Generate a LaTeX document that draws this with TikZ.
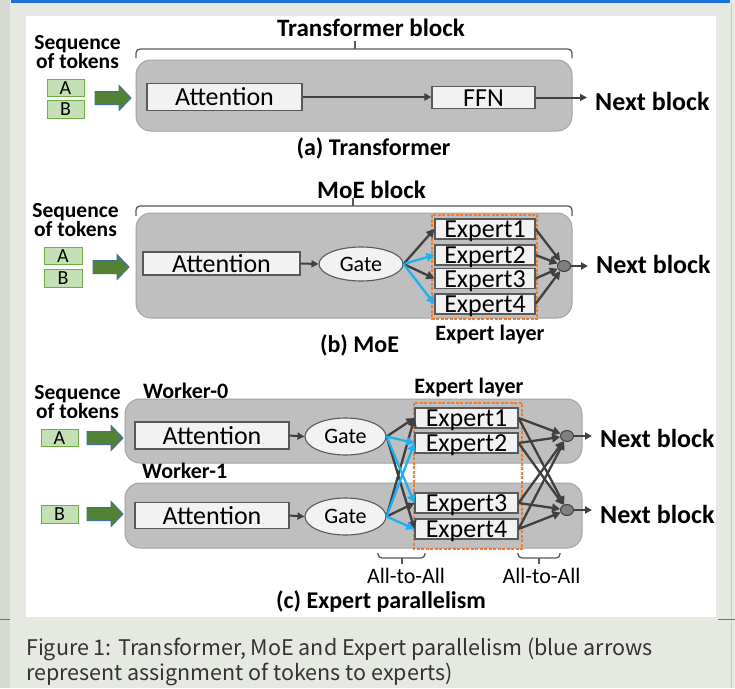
\documentclass[tikz,border=0pt]{standalone}
\usepackage{fontspec}
\setmainfont{Carlito}
\newfontfamily\capfont{Noto Sans CJK SC}
\usetikzlibrary{arrows.meta,shapes.geometric}
\definecolor{outerbg}{HTML}{E5E9E1}
\definecolor{leftstrip}{HTML}{D6DAD2}
\definecolor{topblue}{HTML}{1E6ED7}
\definecolor{boxfill}{HTML}{BFBFBF}
\definecolor{boxedge}{HTML}{A3A3A3}
\definecolor{infill}{HTML}{F2F2F2}
\definecolor{inedge}{HTML}{595959}
\definecolor{tokfill}{HTML}{C5E0B4}
\definecolor{tokedge}{HTML}{70AD47}
\definecolor{garfill}{HTML}{548235}
\definecolor{garedge}{HTML}{41719C}
\definecolor{darkarr}{HTML}{404040}
\definecolor{bluearr}{HTML}{1EB0F0}
\definecolor{orangedash}{HTML}{ED7D31}
\definecolor{circfill}{HTML}{7F7F7F}
\definecolor{captext}{HTML}{333333}
\begin{document}
\begin{tikzpicture}[x=1pt,y=-1pt,
  grayblk/.style={draw=boxedge, fill=boxfill, rounded corners=15pt, line width=1pt, inner sep=0pt},
  inbox/.style={draw=inedge, fill=infill, line width=1.1pt, inner sep=0pt,
    font=\fontsize{26}{26}\selectfont, text height=17pt, text depth=0pt},
  expbox/.style={inbox, minimum width=100pt, minimum height=20pt},
  gatebox/.style={ellipse, draw=inedge, fill=infill, line width=1.1pt, inner sep=0pt,
    font=\fontsize{22}{22}\selectfont, text height=14pt, text depth=0pt},
  tokbox/.style={draw=tokedge, fill=tokfill, line width=1pt, inner sep=0pt,
    minimum width=37pt, font=\fontsize{20}{20}\selectfont, text height=13pt, text depth=0pt},
  circ/.style={ellipse, draw=darkarr, fill=circfill, line width=1pt, inner sep=0pt,
    minimum width=13pt, minimum height=11pt},
  orng/.style={draw=orangedash, line width=1.2pt, dash pattern=on 3pt off 1.5pt},
  brc/.style={draw=inedge, line width=1.3pt, rounded corners=4pt},
  darr/.style={draw=darkarr, line width=2.3pt, -{Triangle[length=8pt,width=8.5pt]}},
  barr/.style={draw=bluearr, line width=2.3pt, -{Triangle[length=8pt,width=8.5pt]}},
  sarr/.style={draw=darkarr, line width=2pt, -{Triangle[length=7pt,width=7pt]}},
  ttl/.style={font=\fontsize{25}{25}\selectfont\bfseries, inner sep=0pt, anchor=base},
  seqt/.style={font=\fontsize{21.5}{18}\selectfont\bfseries, inner sep=0pt, anchor=north, align=center},
  nxt/.style={font=\fontsize{26}{26}\selectfont\bfseries, inner sep=0pt, anchor=base west},
  sub/.style={font=\fontsize{24}{24}\selectfont\bfseries, inner sep=0pt, anchor=base},
  lbl/.style={font=\fontsize{22}{22}\selectfont\bfseries, inner sep=0pt, anchor=base},
  reg/.style={font=\fontsize{22}{22}\selectfont, inner sep=0pt, anchor=base},
  capt/.style={font=\capfont\fontsize{21.5}{21.5}\selectfont, text=captext, inner sep=0pt, anchor=base west},
  garrow/.pic={\draw[fill=garfill, draw=garedge, line width=1pt]
    (0,-6.5) -- (24,-6.5) -- (24,-12.5) -- (36,0) -- (24,12.5) -- (24,6.5) -- (0,6.5) -- cycle;}
]
\useasboundingbox (0,0) rectangle (735,688);
% screenshot surroundings
\fill[outerbg] (0,0) rectangle (735,688);
\fill[leftstrip] (0,0) rectangle (10,688);
\fill[topblue] (11,0) rectangle (730,3);
\draw[color=black!20, line width=0.8pt] (731,3) -- (731,688);
\draw[color=black!55, line width=0.8pt] (0,619) -- (10,619);
\draw[color=black!55, line width=0.8pt] (718,619) -- (735,619);
\fill[white] (26,16) rectangle (716,617);

% ================= (a) Transformer =================
\node[grayblk, minimum width=436pt, minimum height=71pt] (ablk) at (354,95.5) {};
\draw[brc] (136,58) -- (136,49) -- (572,49) -- (572,58);
\draw[brc] (355,49) -- (355,41);
\node[ttl] (atitle) at (371,36) {Transformer block};
\node[seqt] (aseq) at (77.5,35) {Sequence\\of tokens};
\node[tokbox, minimum height=17pt] (atokA) at (65.5,87.5) {A};
\node[tokbox, minimum height=18pt] (atokB) at (65.5,109) {B};
\pic at (95,98) {garrow};
\node[inbox, minimum width=155pt, minimum height=27pt] (aatt) at (224.5,97) {Attention};
\node[inbox, minimum width=103pt, minimum height=22pt] (affn) at (483.5,97.5) {FFN};
\node[nxt] (anext) at (595,110) {Next block};
\draw[sarr] (aatt.east) -- (aatt.east -| affn.west);
\draw[sarr] (affn.east) -- ([xshift=-8pt]affn.east -| anext.west);
\node[sub] (acap) at (373.5,155) {(a) Transformer};

% ================= (b) MoE =================
\node[grayblk, minimum width=436pt, minimum height=105pt] (bblk) at (354,265.5) {};
\draw[brc] (136,216) -- (136,206) -- (572,206) -- (572,216);
\draw[brc] (353,206) -- (353,198);
\node[ttl] (btitle) at (371.5,198) {MoE block};
\node[seqt] (bseq) at (75.5,203) {Sequence\\of tokens};
\node[tokbox, minimum width=38pt, minimum height=17pt] (btokA) at (63,255.5) {A};
\node[tokbox, minimum width=38pt, minimum height=18pt] (btokB) at (63,278) {B};
\pic at (93,267) {garrow};
\node[inbox, minimum width=157pt, minimum height=23pt] (batt) at (221.5,263.5) {Attention};
\node[gatebox, minimum width=84pt, minimum height=34pt] (bgate) at (361,264) {Gate};
\draw[orng] (432,215) rectangle (537,319);
\node[expbox] (be1) at (485,229) {Expert1};
\node[expbox] (be2) at (485,255) {Expert2};
\node[expbox] (be3) at (485,278.5) {Expert3};
\node[expbox] (be4) at (485,304) {Expert4};
\node[circ] (bcirc) at (564,266) {};
\node[nxt] (bnext) at (596,273) {Next block};
\draw[sarr] (batt.east) -- (bgate.west);
\draw[darr] (bgate.east) -- (be1.west);
\draw[barr] (bgate.east) -- (be2.west);
\draw[darr] (bgate.east) -- (be3.west);
\draw[barr] (bgate.east) -- (be4.west);
\foreach \e in {be1,be2,be3,be4} \draw[darr] (\e.east) -- (bcirc);
\draw[sarr] (bcirc.east) -- ([xshift=-8pt]bcirc.east -| bnext.west);
\node[lbl] (blayer) at (490,340) {Expert layer};
\node[sub] (bcap) at (359.5,352) {(b) MoE};

% ================= (c) Expert parallelism =================
\node[grayblk, minimum width=457pt, minimum height=64pt] (cw0) at (353.5,431) {};
\node[grayblk, minimum width=457pt, minimum height=65pt] (cw1) at (353.5,515.5) {};
\node[seqt] (cseq) at (77.5,385) {Sequence\\of tokens};
\node[lbl, anchor=base west] (cwk0) at (143,398) {Worker-0};
\node[lbl, anchor=base west] (cwk1) at (142,478) {Worker-1};
\node[tokbox, minimum height=17pt] (ctokA) at (59.5,437.5) {A};
\node[tokbox, minimum height=18pt] (ctokB) at (59.5,514) {B};
\pic at (87,438) {garrow};
\pic at (87,514) {garrow};
\node[inbox, minimum width=154pt, minimum height=27pt] (catt0) at (212,435.5) {Attention};
\node[inbox, minimum width=154pt, minimum height=26pt] (catt1) at (212,515.5) {Attention};
\node[gatebox, minimum width=81pt, minimum height=37pt] (cgate0) at (345.5,436.5) {Gate};
\node[gatebox, minimum width=81pt, minimum height=37pt] (cgate1) at (345.5,516.5) {Gate};
\draw[orng] (414,403) rectangle (522,549);
\node[expbox, minimum width=103pt] (ce1) at (466.5,418) {Expert1};
\node[expbox, minimum width=103pt] (ce2) at (466.5,443) {Expert2};
\node[expbox, minimum width=103pt] (ce3) at (466.5,503) {Expert3};
\node[expbox, minimum width=103pt] (ce4) at (466.5,529) {Expert4};
\node[circ] (ccirc0) at (567,436) {};
\node[circ] (ccirc1) at (567,510) {};
\node[nxt] (cnext0) at (600,447) {Next block};
\node[nxt] (cnext1) at (600,523) {Next block};
\draw[sarr] (catt0.east) -- (cgate0.west);
\draw[sarr] (catt1.east) -- (cgate1.west);
\draw[darr] (cgate0.east) -- (ce1.west);
\draw[darr] (cgate0.east) -- (ce4.west);
\draw[darr] (cgate1.east) -- (ce1.west);
\draw[darr] (cgate1.east) -- (ce3.west);
\draw[barr] (cgate0.east) -- (ce2.west);
\draw[barr] (cgate0.east) -- (ce3.west);
\draw[barr] (cgate1.east) -- (ce2.west);
\draw[barr] (cgate1.east) -- (ce4.west);
\foreach \e in {ce1,ce2,ce3,ce4} {
  \draw[darr] (\e.east) -- (ccirc0);
  \draw[darr] (\e.east) -- (ccirc1);
}
\draw[sarr] (ccirc0.east) -- ([xshift=-8pt]ccirc0.east -| cnext0.west);
\draw[sarr] (ccirc1.east) -- ([xshift=-8pt]ccirc1.east -| cnext1.west);
\node[lbl] (clayer) at (469,393) {Expert layer};
\draw[brc] (378,553) -- (378,558) -- (425,558) -- (425,553);
\draw[brc] (402,558) -- (402,564);
\draw[brc] (518,553) -- (518,558) -- (560,558) -- (560,553);
\draw[brc] (539,558) -- (539,564);
\node[reg] (ca2a1) at (406,583) {All-to-All};
\node[reg] (ca2a2) at (541.5,583) {All-to-All};
\node[sub] (ccap) at (381,608) {(c) Expert parallelism};

% ================= caption =================
\node[capt] (fig1) at (26,655) {Figure 1: Transformer, MoE and Expert parallelism (blue arrows};
\node[capt] (fig2) at (26,680) {represent assignment of tokens to experts)};
\end{tikzpicture}
\end{document}
